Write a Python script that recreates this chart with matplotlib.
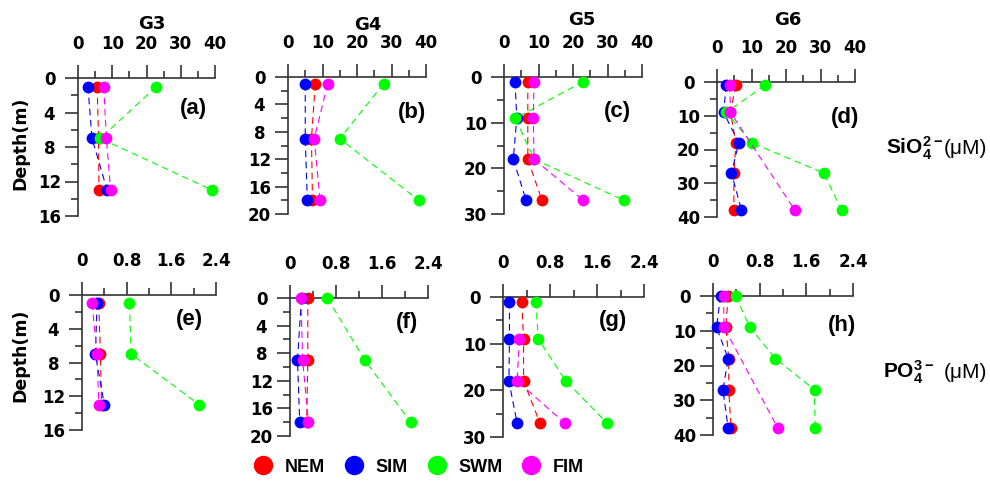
import matplotlib
matplotlib.use('Agg')
import matplotlib.pyplot as plt
from matplotlib.lines import Line2D
from matplotlib.ticker import MultipleLocator

plt.rcParams['font.family'] = 'DejaVu Sans'
plt.rcParams['font.weight'] = 'bold'
plt.rcParams['mathtext.fontset'] = 'custom'
plt.rcParams['mathtext.rm'] = 'Liberation Sans:bold'
plt.rcParams['mathtext.bf'] = 'Liberation Sans:bold'

seasons = ['NEM', 'SIM', 'SWM', 'FIM']
colors = ['#ff0000', '#0000ff', '#00ff00', '#ff00ff']
stations = ['G3', 'G4', 'G5', 'G6']

# sampling depths (m) per station
depth_sio4 = [[1, 7, 13], [1, 9, 18], [1, 9, 18, 27], [1, 9, 18, 27, 38]]
depth_po4 = [[1, 7, 13], [0, 9, 18], [1, 9, 18, 27], [0, 9, 18, 27, 38]]

# silicate (uM), rows = NEM, SIM, SWM, FIM
sio4_g3 = [[5.6, 6.0, 6.1], [2.9, 4.1, 8.5], [22.9, 6.5, 39.2], [7.5, 8.3, 9.5]]
sio4_g4 = [[7.9, 6.8, 7.1], [5.0, 5.0, 5.6], [27.7, 15.0, 37.9], [11.5, 7.6, 9.3]]
sio4_g5 = [[6.9, 6.9, 6.9, 11.0], [3.2, 3.7, 2.7, 6.4],
           [23.0, 3.3, 8.7, 34.8], [8.7, 8.5, 8.7, 23.0]]
sio4_g6 = [[5.4, 3.9, 5.5, 4.9, 4.9], [2.7, 1.9, 6.3, 4.2, 7.1],
           [13.9, 2.7, 10.0, 31.0, 36.1], [3.7, 3.9, None, None, 22.6]]

# phosphate (uM)
po4_g3 = [[0.30, 0.33, 0.35], [0.27, 0.24, 0.40], [0.85, 0.88, 2.10], [0.18, 0.27, 0.30]]
po4_g4 = [[0.31, 0.31, 0.29], [0.20, 0.13, 0.17], [0.65, 1.30, 2.10], [0.19, 0.22, 0.32]]
po4_g5 = [[0.32, 0.35, 0.35, 0.63], [0.11, 0.11, 0.10, 0.24],
          [0.56, 0.60, 1.07, 1.77], [None, 0.28, 0.24, 1.05]]
po4_g6 = [[0.26, 0.22, 0.27, 0.27, 0.31], [0.13, 0.06, 0.26, 0.17, 0.26],
          [0.39, 0.63, 1.07, 1.74, 1.75], [0.18, 0.19, None, None, 1.11]]

sio4 = [sio4_g3, sio4_g4, sio4_g5, sio4_g6]
po4 = [po4_g3, po4_g4, po4_g5, po4_g6]

depth_max = [16, 20, 30, 40]
depth_step = [4, 4, 10, 10]
panel_tags = ['(a)', '(b)', '(c)', '(d)', '(e)', '(f)', '(g)', '(h)']

W, H = 990, 482
fig = plt.figure(figsize=(W / 100, H / 100), dpi=100)


def px_box(x0, y0, x1, y1):
    return [x0 / W, 1 - y1 / H, (x1 - x0) / W, (y1 - y0) / H]


top_boxes = [(78, 78, 215, 216), (288, 77, 426, 214), (504, 77, 642, 214), (717, 82, 855, 217)]
bot_boxes = [(82, 295, 216, 430), (290, 298, 428, 436), (503, 297, 644, 437), (713, 296, 853, 435)]
tag_pos = [(0.84, 0.78), (0.90, 0.74), (0.82, 0.75), (0.93, 0.74),
           (0.80, 0.815), (0.85, 0.82), (0.78, 0.835), (0.92, 0.79)]

spine_col = '#333333'


def draw_panel(box, depths, values, xmax, xstep, xlabels, ymax, ystep, tag, tagxy):
    ax = fig.add_axes(px_box(*box))
    for k in range(4):
        d = [dd for dd, v in zip(depths, values[k]) if v is not None]
        v = [v for v in values[k] if v is not None]
        ax.plot(v, d, color=colors[k], linestyle='--', dashes=(6, 4), linewidth=0.8,
                marker='o', markersize=8.5, markeredgewidth=0, clip_on=False, zorder=3)
    ax.set_xlim(0, xmax)
    ax.set_ylim(ymax, 0)
    ax.xaxis.tick_top()
    ax.set_xticks([i * xstep for i in range(len(xlabels))])
    ax.set_xticklabels(xlabels)
    ax.xaxis.set_minor_locator(MultipleLocator(xstep / 2))
    ax.yaxis.set_major_locator(MultipleLocator(ystep))
    ax.yaxis.set_minor_locator(MultipleLocator(ystep / 2))
    for s in ['bottom', 'right']:
        ax.spines[s].set_visible(False)
    for s in ['top', 'left']:
        ax.spines[s].set_color(spine_col)
        ax.spines[s].set_linewidth(1.2)
    ax.tick_params(which='major', length=9.5, width=1.2, color=spine_col, labelsize=12)
    ax.tick_params(which='minor', length=5, width=1.2, color=spine_col)
    ax.tick_params(axis='x', which='major', pad=8.5)
    ax.tick_params(axis='y', which='major', pad=11)
    plt.setp(ax.get_yticklabels(), ha='center')
    ax.text(tagxy[0], tagxy[1], tag, transform=ax.transAxes, ha='center', va='center',
            fontsize=16, fontweight='bold', family='Liberation Sans')
    ax.patch.set_alpha(0)
    return ax


for i in range(4):
    draw_panel(top_boxes[i], depth_sio4[i], sio4[i], 40, 10, ['0', '10', '20', '30', '40'],
               depth_max[i], depth_step[i], panel_tags[i], tag_pos[i])
    draw_panel(bot_boxes[i], depth_po4[i], po4[i], 2.4, 0.8, ['0', '0.8', '1.6', '2.4'],
               depth_max[i], depth_step[i], panel_tags[i + 4], tag_pos[i + 4])

# station titles
title_xy = [(152, 24), (368, 25), (582, 20), (788, 20)]
for name, (tx, ty) in zip(stations, title_xy):
    fig.text(tx / W, 1 - ty / H, name, ha='center', va='center', fontsize=13, fontweight='bold')

# depth labels
for yc in [143, 355]:
    fig.text(20 / W, 1 - yc / H, 'Depth(m)', rotation=90, ha='center', va='center',
             fontsize=12.5, fontweight='bold')

# nutrient labels on the right
fig.text(886 / W, 1 - 148 / H, r'$\mathbf{SiO_4^{2-}}$', ha='left', va='center', fontsize=15)
fig.text(944 / W, 1 - 148 / H, '(μM)', ha='left', va='center', fontsize=15,
         fontweight='normal', family='Liberation Sans')
fig.text(883 / W, 1 - 372 / H, r'$\mathbf{PO_4^{3-}}$', ha='left', va='center', fontsize=15)
fig.text(944 / W, 1 - 372 / H, '(μM)', ha='left', va='center', fontsize=15,
         fontweight='normal', family='Liberation Sans')

handles = [Line2D([], [], linestyle='none', marker='o', markersize=14, markeredgewidth=0,
                  color=c) for c in colors]
fig.legend(handles, seasons, loc='center', bbox_to_anchor=(419 / W, 1 - 467 / H), ncol=4,
           frameon=False, handlelength=1.0, handletextpad=0.7, columnspacing=1.1,
           prop={'family': 'Liberation Sans', 'weight': 'bold', 'size': 13})

fig.savefig('out.png', dpi=100)
